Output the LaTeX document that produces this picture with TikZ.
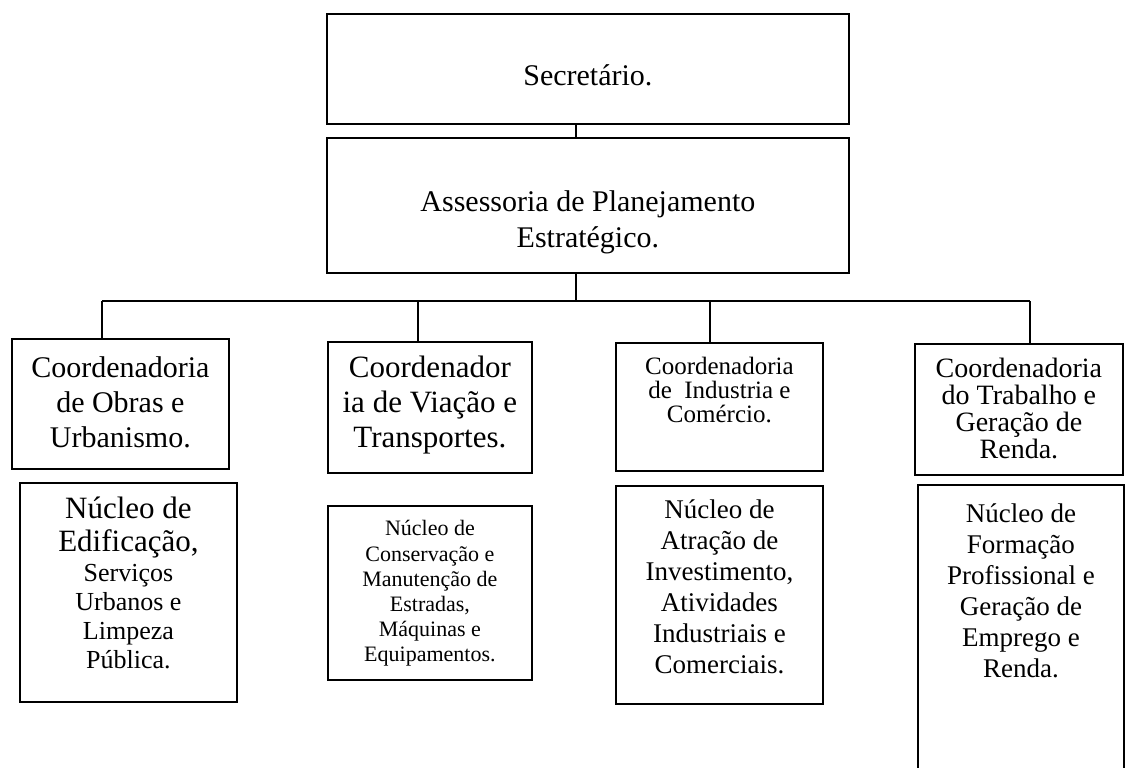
\documentclass[tikz,border=0pt]{standalone}
\usepackage{fontspec}
\setmainfont{Liberation Serif}

\begin{document}
\begin{tikzpicture}[x=0.5pt,y=-0.5pt,
  box/.style={draw,line width=0.9pt,anchor=north west,inner sep=0pt,align=center},
  dims/.style n args={3}{minimum width=#1,text height=#2,text depth=#3},
  link/.style={line width=0.6pt}]
  \useasboundingbox (0,0) rectangle (1128,767);
  % Top level
  \node[box,dims={261pt}{36pt}{19pt},font=\fontsize{15}{18}\selectfont] (sec) at (326,13) {Secretário.};
  \node[box,dims={261pt}{55pt}{12.5pt},font=\fontsize{15}{18}\selectfont] (ass) at (326,137)
    {Assessoria de Planejamento\\Estratégico.};
  % Coordenadorias
  \node[box,dims={108.5pt}{54.5pt}{10.5pt},font=\fontsize{15}{17.5}\selectfont] (c1) at (11,338)
    {Coordenadoria\\de Obras e\\Urbanismo.};
  \node[box,dims={102pt}{53pt}{12.5pt},font=\fontsize{15.5}{17.5}\selectfont] (c2) at (327,341)
    {Coordenador\\ia de Viação e\\Transportes.};
  \node[box,dims={103.5pt}{40pt}{24pt},font=\fontsize{12.5}{12}\selectfont] (c3) at (615,342)
    {Coordenadoria\\de~ Industria e\\Comércio.};
  \node[box,dims={104pt}{57.5pt}{8pt},font=\fontsize{14}{13.5}\selectfont] (c4) at (914,343)
    {Coordenadoria\\do Trabalho e\\Geração de\\Renda.};
  % Nucleos
  \node[box,dims={108.5pt}{93pt}{16.5pt},font=\fontsize{13}{14.5}\selectfont] (n1) at (19,482)
    {{\fontsize{15.5}{16.5}\selectfont Núcleo de}\\[2pt]{\fontsize{15.5}{16.5}\selectfont Edificação,}\\[0.5pt]Serviços\\Urbanos e\\Limpeza\\Pública.};
  \node[box,dims={102pt}{78pt}{9pt},font=\fontsize{11}{12.6}\selectfont] (n2) at (327,505)
    {Núcleo de\\Conservação e\\Manutenção de\\Estradas,\\Máquinas e\\Equipamentos.};
  \node[box,dims={103.5pt}{94pt}{15pt},font=\fontsize{13.5}{15.5}\selectfont] (n3) at (615,485)
    {Núcleo de\\Atração de\\Investimento,\\Atividades\\Industriais e\\Comerciais.};
  \node[box,dims={103pt}{96.5pt}{61.5pt},font=\fontsize{13.5}{15.5}\selectfont] (n4) at (917,484)
    {Núcleo de\\Formação\\Profissional e\\Geração de\\Emprego e\\Renda.};
  % connectors
  \coordinate (hub) at (576,301);
  \coordinate (b1) at (102,301);
  \coordinate (b2) at (418,301);
  \coordinate (b3) at (710,301);
  \coordinate (b4) at (1030,301);
  \draw[link] (sec.south -| hub) -- (ass.north -| hub);
  \draw[link] (ass.south -| hub) -- (hub);
  \draw[link] (b1) -- (b4);
  \foreach \i/\c in {1/c1,2/c2,3/c3,4/c4}
    \draw[link] (b\i) -- (\c.north -| b\i);
\end{tikzpicture}
\end{document}
